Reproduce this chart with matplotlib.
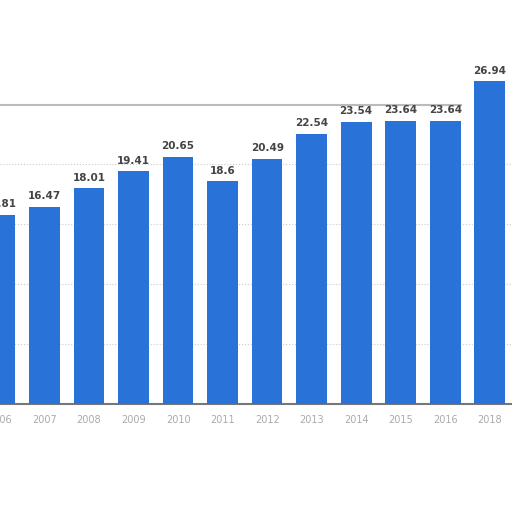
import numpy as np
import matplotlib
matplotlib.use("Agg")
import matplotlib.pyplot as plt

years = ['2006', '2007', '2008', '2009', '2010', '2011', '2012',
         '2013', '2014', '2015', '2016', '2018']
values = [15.81, 16.47, 18.01, 19.41, 20.65, 18.6, 20.49,
          22.54, 23.54, 23.64, 23.64, 26.94]
value_labels = ['15.81', '16.47', '18.01', '19.41', '20.65', '18.6', '20.49',
                '22.54', '23.54', '23.64', '23.64', '26.94']

fig = plt.figure(figsize=(5.12, 5.12), dpi=100)
ax = fig.add_axes([0, 108 / 512, 1, 404 / 512])

x = np.arange(len(years))
bars = ax.bar(x, values, width=0.69, color='#2872d8', zorder=3)

# value labels above bars
for b, lab in zip(bars, value_labels):
    ax.annotate(lab, (b.get_x() + b.get_width() / 2, b.get_height()),
                xytext=(0, 4), textcoords='offset points',
                ha='center', va='bottom', fontsize=7.5, fontweight='bold',
                color='#444444', zorder=4)

ax.set_xlim(0.122, 11.5)
ax.set_ylim(0, 404 / 11.98)

# gridlines
for g in [5, 10, 15, 20]:
    ax.axhline(g, color='#cccccc', lw=0.8, ls=':', zorder=1)
ax.axhline(25, xmin=0, xmax=0.9, color='#bbbbbb', lw=1.5, zorder=1)

ax.set_xticks(x)
ax.set_xticklabels(years, fontsize=7, color='#aaaaaa')
ax.tick_params(axis='x', length=0, pad=8)
ax.set_yticks([])

for s in ['top', 'left', 'right']:
    ax.spines[s].set_visible(False)
ax.spines['bottom'].set_color('#777777')
ax.spines['bottom'].set_linewidth(1.5)

fig.savefig('out.png', dpi=100)
